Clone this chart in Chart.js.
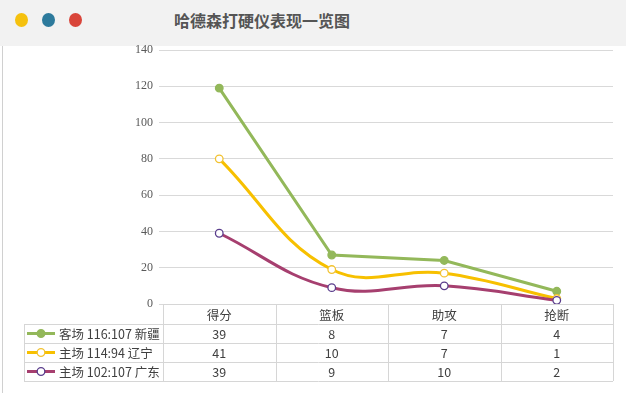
<!DOCTYPE html>
<html><head><meta charset="utf-8">
<script src="https://cdn.jsdelivr.net/npm/chart.js@4/dist/chart.umd.min.js"></script>
<style>
html,body{margin:0;padding:0;background:#fff;}
#wrap{position:relative;width:626px;height:393px;overflow:hidden;}
#bar{position:absolute;left:0;top:0;width:626px;height:46px;background:#f2f2f2;}
.dot{position:absolute;top:13px;width:13px;height:14px;border-radius:50%;}
#title{position:absolute;top:8px;left:162px;width:200px;text-align:center;font:bold 16px "Noto Sans CJK SC",sans-serif;color:#555555;}
#vline{position:absolute;left:2px;top:46px;width:1px;height:347px;background:#d0d0d0;}
canvas{position:absolute;left:0;top:0;}
</style></head>
<body><div id="wrap">
<div id="bar"></div>
<div class="dot" style="left:15px;background:#f5c10e"></div>
<div class="dot" style="left:42px;background:#2d7a9c"></div>
<div class="dot" style="left:69px;background:#d9453a"></div>
<div id="title">哈德森打硬仪表现一览图</div>
<div id="vline"></div>
<canvas id="c" width="626" height="393"></canvas>
</div>
<script>
const categories = ['得分','篮板','助攻','抢断'];
const yTicks = [0,20,40,60,80,100,120,140];
const seriesNames = ['客场 116:107 新疆','主场 114:94 辽宁','主场 102:107 广东'];
const xinjiang = [39,8,7,4];
const liaoning = [41,10,7,1];
const guangdong = [39,9,10,2];

const styles = [
  {line:'#93b85a', pbg:'#93b85a', pb:'#93b85a', tension:0},
  {line:'#f7c000', pbg:'#ffffff', pb:'#f2c230', tension:0.4},
  {line:'#a63f6f', pbg:'#ffffff', pb:'#5a3d8c', tension:0.4}
];
const seriesData = [xinjiang, liaoning, guangdong];

// stacking: bottom dataset first (广东), then 辽宁, then 新疆
const stackOrder = [2,1,0];
const datasets = stackOrder.map(i => ({
  label: seriesNames[i],
  data: seriesData[i],
  borderColor: styles[i].line,
  backgroundColor: styles[i].line,
  pointBackgroundColor: styles[i].pbg,
  pointBorderColor: styles[i].pb,
  pointBorderWidth: 1.3,
  pointRadius: 3.8,
  borderWidth: 3,
  tension: styles[i].tension,
  fill: false
}));

const tablePlugin = {
  id: 'dataTable',
  afterDraw(chart) {
    const ctx = chart.ctx, a = chart.chartArea, xs = chart.scales.x;
    const n = categories.length, cw = (a.right - a.left) / n;
    const top = Math.round(a.bottom), hH = 20, rH = 19, legL = 24;
    const R = Math.round(a.right), L = Math.round(a.left);
    ctx.save();
    ctx.strokeStyle = '#d6d6d6';
    ctx.lineWidth = 1;
    ctx.beginPath();
    ctx.moveTo(L, top + 0.5); ctx.lineTo(R, top + 0.5);
    for (let r = 0; r <= seriesNames.length; r++) {
      const y = top + hH + r * rH + 0.5;
      ctx.moveTo(legL, y); ctx.lineTo(R, y);
    }
    const bottom = top + hH + seriesNames.length * rH;
    ctx.moveTo(legL + 0.5, top + hH); ctx.lineTo(legL + 0.5, bottom);
    for (let c = 0; c <= n; c++) {
      const x = Math.round(a.left + c * cw) + 0.5;
      ctx.moveTo(x, top); ctx.lineTo(x, bottom);
    }
    ctx.stroke();
    ctx.font = '12.5px "Noto Sans CJK SC", sans-serif';
    ctx.fillStyle = '#404040';
    ctx.textAlign = 'center';
    ctx.textBaseline = 'middle';
    categories.forEach((c, i) => ctx.fillText(c, xs.getPixelForValue(i), top + hH / 2 + 1));
    seriesNames.forEach((name, r) => {
      const yc = top + hH + r * rH + rH / 2 + 1;
      seriesData[r].forEach((v, i) => {
        ctx.fillStyle = '#404040';
        ctx.textAlign = 'center';
        ctx.fillText(String(v), xs.getPixelForValue(i), yc);
      });
      const st = styles[r];
      ctx.strokeStyle = st.line; ctx.lineWidth = 3;
      ctx.beginPath(); ctx.moveTo(27, yc - 1); ctx.lineTo(55, yc - 1); ctx.stroke();
      ctx.beginPath(); ctx.arc(41, yc - 1, 3.8, 0, Math.PI * 2);
      ctx.fillStyle = st.pbg; ctx.fill();
      ctx.strokeStyle = st.pb; ctx.lineWidth = 1.3; ctx.stroke();
      ctx.fillStyle = '#404040';
      ctx.textAlign = 'left';
      ctx.fillText(name, 59, yc);
    });
    ctx.restore();
  }
};

new Chart(document.getElementById('c'), {
  type: 'line',
  data: { labels: categories, datasets },
  options: {
    responsive: false,
    animation: false,
    devicePixelRatio: 1,
    layout: { padding: { left: 0, top: 50, right: 13, bottom: 89 } },
    plugins: { legend: { display: false }, tooltip: { enabled: false } },
    scales: {
      x: { display: false, offset: true },
      y: {
        stacked: true,
        min: 0, max: 140,
        afterFit(s) { s.width = 163; },
        afterBuildTicks(s) { s.ticks = yTicks.map(v => ({ value: v })); },
        border: { display: false },
        grid: { color: '#d9d9d9', tickLength: 4, drawTicks: true },
        ticks: { padding: 6, color: '#595959', font: { family: '"Liberation Serif", serif', size: 12 } }
      }
    }
  },
  plugins: [tablePlugin]
});
</script>
</body></html>
